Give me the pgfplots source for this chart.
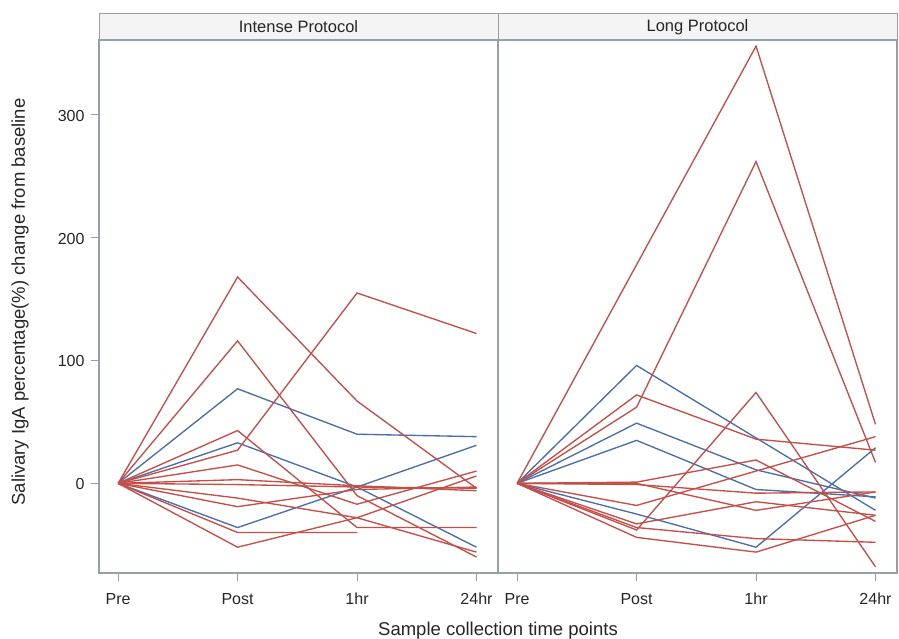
\documentclass[border=0pt]{standalone}
\usepackage{pgfplots}
\pgfplotsset{compat=1.18}
\usepackage{fontspec}
\setmainfont{Liberation Sans}

\definecolor{sasred}{RGB}{196,78,72}
\definecolor{sasblue}{RGB}{74,110,168}
\definecolor{framegray}{RGB}{150,160,165}

\pgfplotsset{
  panel/.style={
    scale only axis, width=399pt, height=533pt,
    xmin=-0.16, xmax=3.18, ymin=-73, ymax=361,
    xtick={0,1,2,3}, xticklabels={Pre,Post,1hr,24hr},
    xtick pos=lower,
    tick align=outside, major tick length=8pt,
    tick style={framegray, line width=1pt},
    axis line style={framegray, line width=1.2pt},
    ticklabel style={font=\fontsize{16}{19}\selectfont, text=black!85},
    typeset ticklabels with strut,
    x tick label style={yshift=-7pt},
    /pgf/number format/assume math mode=true,
  },
  red line/.style={sasred, line width=1.35pt},
  blue line/.style={sasblue, line width=1.35pt},
}

\begin{document}
\begin{tikzpicture}
\useasboundingbox (0,0) rectangle (899pt,639pt);

% Intense protocol
\begin{axis}[panel, name=L, at={(99pt,66pt)}, anchor=south west,
    ytick={0,100,200,300}, ytick pos=left,
    y tick label style={xshift=-3pt, yshift=-2.5pt}]
  \addplot[blue line] coordinates {(0,0)(1,77)(2,40)(3,38)};
  \addplot[blue line] coordinates {(0,0)(1,33)(2,-3)(3,-52)};
  \addplot[blue line] coordinates {(0,0)(1,-36)(2,-3)(3,31)};
  \addplot[red line] coordinates {(0,0)(1,168)(2,67)(3,-4)};
  \addplot[red line] coordinates {(0,0)(1,116)(2,-10)(3,-60)};
  \addplot[red line] coordinates {(0,0)(1,27)(2,155)(3,122)};
  \addplot[red line] coordinates {(0,0)(1,43)(2,-36)(3,-36)};
  \addplot[red line] coordinates {(0,0)(1,15)(2,-17)(3,10)};
  \addplot[red line] coordinates {(0,0)(1,3)(2,-2)(3,-6)};
  \addplot[red line] coordinates {(0,0)(1,-1)(2,-3)(3,-4)};
  \addplot[red line] coordinates {(0,0)(1,-12)(2,-28)(3,-56)};
  \addplot[red line] coordinates {(0,0)(1,-19)(2,-5)(3,-3)};
  \addplot[red line] coordinates {(0,0)(1,-40)(2,-40)};
  \addplot[red line] coordinates {(0,0)(1,-52)(2,-28)(3,6)};
\end{axis}

% Long protocol
\begin{axis}[panel, name=R, at={(498pt,66pt)}, anchor=south west,
    ytick=\empty]
  \addplot[blue line] coordinates {(0,0)(1,96)(2,37)(3,-22)};
  \addplot[blue line] coordinates {(0,0)(1,49)(2,11)(3,-12)};
  \addplot[blue line] coordinates {(0,0)(1,35)(2,-5)(3,-11)};
  \addplot[blue line] coordinates {(0,0)(1,-25)(2,-52)(3,29)};
  \addplot[red line] coordinates {(0,0)(1,178)(2,356)(3,48)};
  \addplot[red line] coordinates {(0,0)(1,62)(2,262)(3,17)};
  \addplot[red line] coordinates {(0,0)(1,-38)(2,74)(3,-68)};
  \addplot[red line] coordinates {(0,0)(1,72)(2,36)(3,27)};
  \addplot[red line] coordinates {(0,0)(1,1)(2,19)(3,-31)};
  \addplot[red line] coordinates {(0,0)(1,0)(2,-22)(3,-7)};
  \addplot[red line] coordinates {(0,0)(1,-18)(2,10)(3,38)};
  \addplot[red line] coordinates {(0,0)(1,-44)(2,-56)(3,-26)};
  \addplot[red line] coordinates {(0,0)(1,-36)(2,-45)(3,-48)};
  \addplot[red line] coordinates {(0,0)(1,-33)(2,-15)(3,-26)};
  \addplot[red line] coordinates {(0,0)(1,-1)(2,-8)(3,-7)};
\end{axis}

% panel headers
\draw[framegray, fill=gray!9, line width=1pt] (L.north west) rectangle ([yshift=26pt]L.north east);
\draw[framegray, fill=gray!9, line width=1pt] (R.north west) rectangle ([yshift=26pt]R.north east);
\node[font=\fontsize{16.5}{19}\selectfont, text=black!85] at ([yshift=13pt]L.north) {Intense Protocol};
\node[font=\fontsize{16.5}{19}\selectfont, text=black!85] at ([yshift=13pt]R.north) {Long Protocol};

% axis titles
\node[font=\fontsize{18.5}{22}\selectfont, text=black!85, anchor=base] at (498pt,3pt) {Sample collection time points};
\node[font=\fontsize{18.5}{22}\selectfont, text=black!85, rotate=90] at (20pt,337pt) {Salivary IgA percentage(\%) change from baseline};
\end{tikzpicture}
\end{document}
